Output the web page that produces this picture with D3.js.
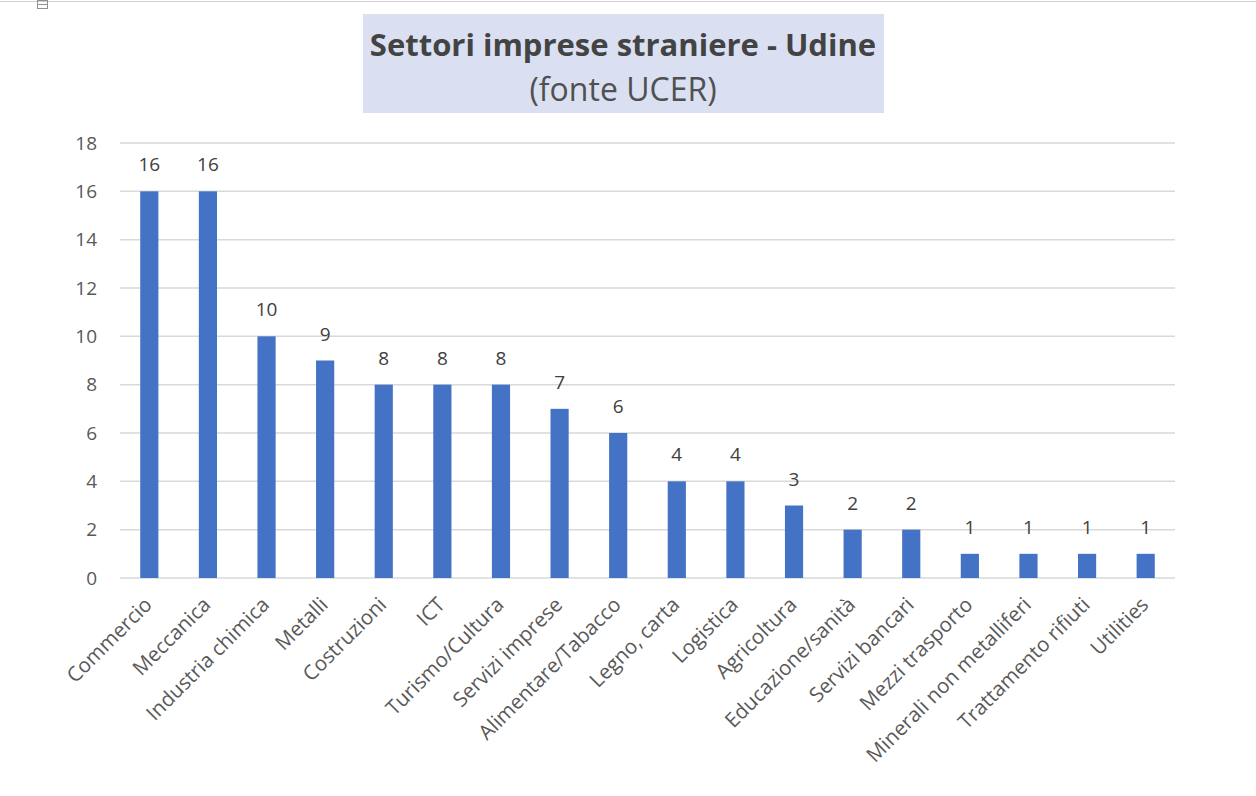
<!DOCTYPE html>
<html>
<head>
<meta charset="utf-8">
<script src="https://cdn.jsdelivr.net/npm/d3@7"></script>
<style>
  body { margin: 0; background: #fff; }
  svg { display: block; font-family: "Open Sans", "Liberation Sans", sans-serif; }
</style>
</head>
<body>
<svg width="1256" height="796"></svg>
<script>
"use strict";

const SECTORS = ["Commercio", "Meccanica", "Industria chimica", "Metalli", "Costruzioni", "ICT",
    "Turismo/Cultura", "Servizi imprese", "Alimentare/Tabacco", "Legno, carta", "Logistica",
    "Agricoltura", "Educazione/sanità", "Servizi bancari", "Mezzi trasporto",
    "Minerali non metalliferi", "Trattamento rifiuti", "Utilities"];
const COUNTS = [16, 16, 10, 9, 8, 8, 8, 7, 6, 4, 4, 3, 2, 2, 1, 1, 1, 1];
const Y_TICKS = [0, 2, 4, 6, 8, 10, 12, 14, 16, 18];

const TITLE = "Settori imprese straniere - Udine";
const SUBTITLE = "(fonte UCER)";

const svg = d3.select("svg");
const plotLeft = 120, plotRight = 1175, plotTop = 143, plotBottom = 578;

// faint page border and the little anchor glyph top-left
svg.append("line")
    .attr("x1", 0).attr("x2", 1256).attr("y1", 1.5).attr("y2", 1.5)
    .attr("stroke", "#d0d0d0");
svg.append("rect")
    .attr("x", 37.5).attr("y", 0.5).attr("width", 10).attr("height", 8)
    .attr("fill", "none").attr("stroke", "#909090");
svg.append("line")
    .attr("x1", 37.5).attr("x2", 47.5).attr("y1", 4.5).attr("y2", 4.5)
    .attr("stroke", "#909090");

// title box
svg.append("rect")
    .attr("x", 363).attr("y", 14).attr("width", 521).attr("height", 99)
    .attr("fill", "#dae0f1");
svg.append("text")
    .attr("x", 623).attr("y", 56)
    .attr("text-anchor", "middle")
    .attr("font-size", 31).attr("font-weight", "bold")
    .attr("fill", "#434343")
    .text(TITLE);
svg.append("text")
    .attr("x", 623).attr("y", 101)
    .attr("text-anchor", "middle")
    .attr("font-size", 32)
    .attr("fill", "#505050")
    .text(SUBTITLE);

const x = d3.scaleBand()
    .domain(SECTORS)
    .range([plotLeft, plotRight])
    .paddingInner(0.69)
    .paddingOuter(0.345);

const y = d3.scaleLinear()
    .domain([0, 18])
    .range([plotBottom, plotTop]);

// gridlines
svg.append("g")
    .selectAll("line")
    .data(Y_TICKS)
    .join("line")
    .attr("x1", plotLeft).attr("x2", plotRight)
    .attr("y1", d => y(d)).attr("y2", d => y(d))
    .attr("stroke", "#d9d9d9").attr("stroke-width", 1.5);

// y axis labels
const yAxis = svg.append("g")
    .attr("transform", `translate(${plotLeft - 23}, 0)`)
    .call(d3.axisLeft(y).tickValues(Y_TICKS).tickSize(0).tickPadding(0));
yAxis.select(".domain").remove();
yAxis.selectAll("text")
    .attr("font-size", 19).attr("fill", "#595959")
    .attr("font-family", "\"Open Sans\", sans-serif");

// x axis labels, rotated like the spreadsheet did
const xAxis = svg.append("g")
    .attr("transform", `translate(0, ${plotBottom})`)
    .call(d3.axisBottom(x).tickSize(0).tickPadding(0));
xAxis.select(".domain").remove();
xAxis.selectAll("text")
    .attr("font-size", 20.5).attr("fill", "#595959")
    .attr("font-family", "\"Open Sans\", sans-serif")
    .attr("text-anchor", "end")
    .attr("dy", null)
    .attr("y", 0)
    .attr("transform", "translate(4, 28) rotate(-45)");

// bars
svg.append("g")
    .selectAll("rect")
    .data(COUNTS)
    .join("rect")
    .attr("x", (d, i) => x(SECTORS[i]))
    .attr("y", d => y(d))
    .attr("width", x.bandwidth())
    .attr("height", d => plotBottom - y(d))
    .attr("fill", "#4472c4");

// value labels
svg.append("g")
    .selectAll("text")
    .data(COUNTS)
    .join("text")
    .attr("x", (d, i) => x(SECTORS[i]) + x.bandwidth() / 2)
    .attr("y", d => y(d) - 20)
    .attr("text-anchor", "middle")
    .attr("font-size", 19).attr("fill", "#404040")
    .text(d => d);
</script>
</body>
</html>
